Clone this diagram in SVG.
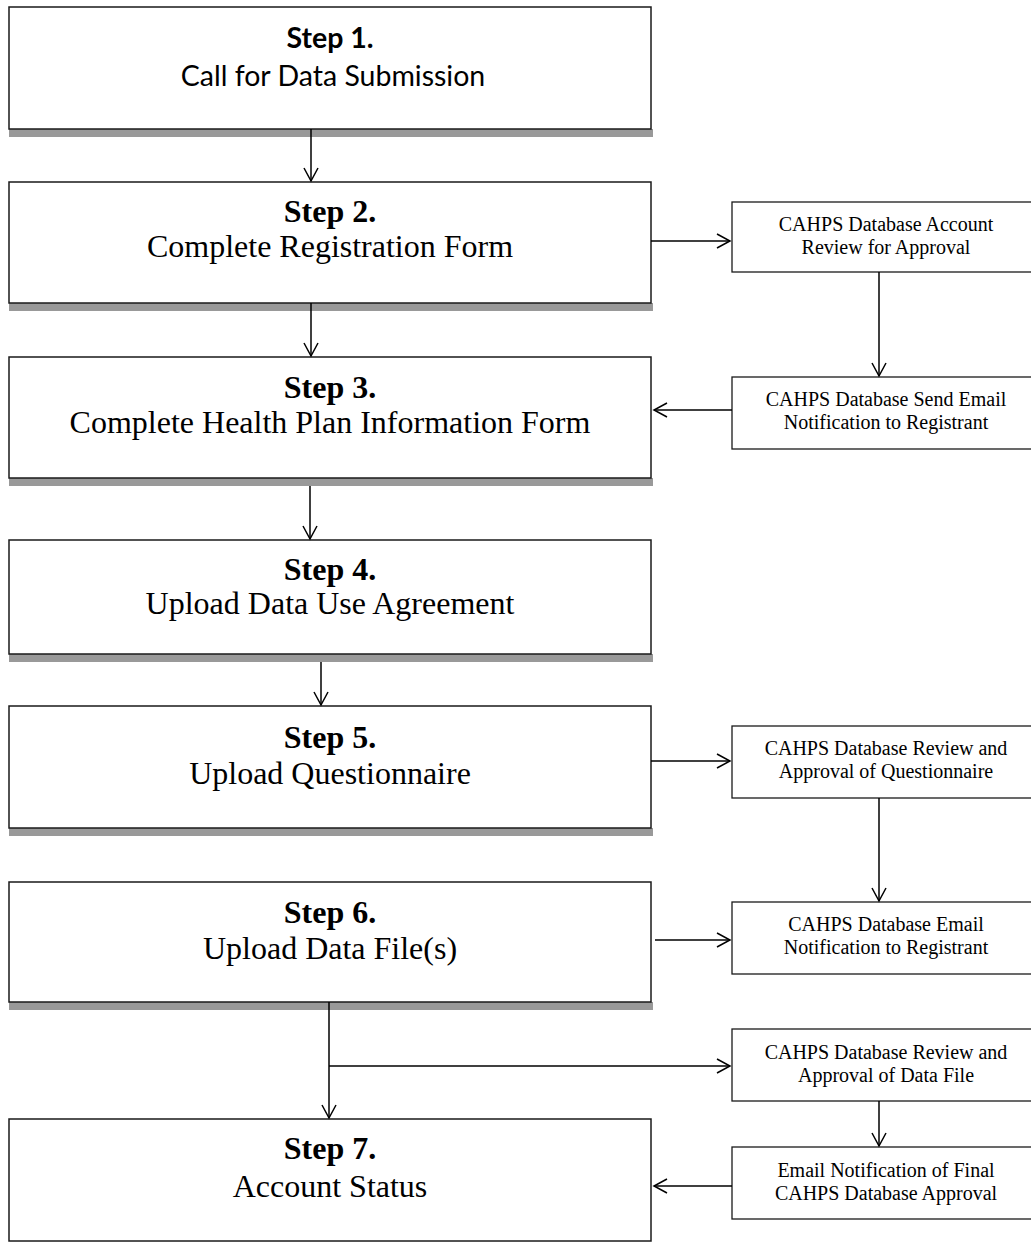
<svg xmlns="http://www.w3.org/2000/svg" width="1031" height="1243" viewBox="0 0 1031 1243">
<style>
.box{fill:#fff;stroke:#1a1a1a;stroke-width:1.5}
.shadow{fill:#999}
.side{fill:#fff;stroke:#1a1a1a;stroke-width:1.3}
.st{font-family:"Liberation Serif","Times New Roman",serif;font-size:32px;fill:#000;text-anchor:middle}
.stb{font-family:"Liberation Serif","Times New Roman",serif;font-size:32px;font-weight:bold;fill:#000;text-anchor:middle}
.s1{font-family:Lato,"Liberation Sans",sans-serif;font-size:28.5px;fill:#000;text-anchor:middle}
.s1b{font-family:Lato,"Liberation Sans",sans-serif;font-size:28.5px;font-weight:bold;fill:#000;text-anchor:middle}
.sd{font-family:"Liberation Serif","Times New Roman",serif;font-size:20px;fill:#000;text-anchor:middle}
.conn{stroke:#000;stroke-width:1.5;fill:none}
</style>
<defs>
<marker id="arr" markerUnits="userSpaceOnUse" markerWidth="20" markerHeight="20" refX="14" refY="8" orient="auto">
<path d="M1,1 L14,8 L1,15" fill="none" stroke="#000" stroke-width="1.5"/>
</marker>
</defs>

<g id="step1">
<rect class="shadow" x="9" y="129" width="644" height="8"/>
<rect class="box" x="9" y="7" width="642" height="122"/>
<text class="s1b" x="330" y="48">Step 1.</text>
<text class="s1" x="333" y="86">Call for Data Submission</text>
</g>
<g id="step2">
<rect class="shadow" x="9" y="303" width="644" height="8"/>
<rect class="box" x="9" y="182" width="642" height="121"/>
<text class="stb" x="330" y="222">Step 2.</text>
<text class="st" x="330" y="257">Complete Registration Form</text>
</g>
<g id="step3">
<rect class="shadow" x="9" y="478" width="644" height="8"/>
<rect class="box" x="9" y="357" width="642" height="121"/>
<text class="stb" x="330" y="398">Step 3.</text>
<text class="st" x="330" y="433">Complete Health Plan Information Form</text>
</g>
<g id="step4">
<rect class="shadow" x="9" y="654" width="644" height="8"/>
<rect class="box" x="9" y="540" width="642" height="114"/>
<text class="stb" x="330" y="580">Step 4.</text>
<text class="st" x="330" y="614">Upload Data Use Agreement</text>
</g>
<g id="step5">
<rect class="shadow" x="9" y="828" width="644" height="8"/>
<rect class="box" x="9" y="706" width="642" height="122"/>
<text class="stb" x="330" y="748">Step 5.</text>
<text class="st" x="330" y="784">Upload Questionnaire</text>
</g>
<g id="step6">
<rect class="shadow" x="9" y="1002" width="644" height="8"/>
<rect class="box" x="9" y="882" width="642" height="120"/>
<text class="stb" x="330" y="923">Step 6.</text>
<text class="st" x="330" y="959">Upload Data File(s)</text>
</g>
<g id="step7">
<rect class="box" x="9" y="1119" width="642" height="122"/>
<text class="stb" x="330" y="1159">Step 7.</text>
<text class="st" x="330" y="1197">Account Status</text>
</g>

<g id="sideA">
<rect class="side" x="732" y="202" width="310" height="70"/>
<text class="sd" x="886" y="231">CAHPS Database Account</text>
<text class="sd" x="886" y="254">Review for Approval</text>
</g>
<g id="sideB">
<rect class="side" x="732" y="377" width="310" height="72"/>
<text class="sd" x="886" y="406">CAHPS Database Send Email</text>
<text class="sd" x="886" y="429">Notification to Registrant</text>
</g>
<g id="sideC">
<rect class="side" x="732" y="726" width="310" height="72"/>
<text class="sd" x="886" y="755">CAHPS Database Review and</text>
<text class="sd" x="886" y="778">Approval of Questionnaire</text>
</g>
<g id="sideD">
<rect class="side" x="732" y="902" width="310" height="72"/>
<text class="sd" x="886" y="931">CAHPS Database Email</text>
<text class="sd" x="886" y="954">Notification to Registrant</text>
</g>
<g id="sideE">
<rect class="side" x="732" y="1029" width="310" height="72"/>
<text class="sd" x="886" y="1059">CAHPS Database Review and</text>
<text class="sd" x="886" y="1082">Approval of Data File</text>
</g>
<g id="sideF">
<rect class="side" x="732" y="1147" width="310" height="72"/>
<text class="sd" x="886" y="1177">Email Notification of Final</text>
<text class="sd" x="886" y="1200">CAHPS Database Approval</text>
</g>

<g id="connectors">
<line class="conn" x1="311" y1="129" x2="311" y2="181" marker-end="url(#arr)"/>
<line class="conn" x1="311" y1="303" x2="311" y2="356" marker-end="url(#arr)"/>
<line class="conn" x1="310" y1="486" x2="310" y2="539" marker-end="url(#arr)"/>
<line class="conn" x1="321" y1="662" x2="321" y2="705" marker-end="url(#arr)"/>
<line class="conn" x1="329" y1="1002" x2="329" y2="1118" marker-end="url(#arr)"/>
<line class="conn" x1="329" y1="1066" x2="730" y2="1066" marker-end="url(#arr)"/>
<line class="conn" x1="651" y1="241" x2="730" y2="241" marker-end="url(#arr)"/>
<line class="conn" x1="879" y1="272" x2="879" y2="376" marker-end="url(#arr)"/>
<line class="conn" x1="732" y1="410" x2="654" y2="410" marker-end="url(#arr)"/>
<line class="conn" x1="651" y1="761" x2="730" y2="761" marker-end="url(#arr)"/>
<line class="conn" x1="879" y1="798" x2="879" y2="901" marker-end="url(#arr)"/>
<line class="conn" x1="655" y1="940" x2="730" y2="940" marker-end="url(#arr)"/>
<line class="conn" x1="879" y1="1101" x2="879" y2="1146" marker-end="url(#arr)"/>
<line class="conn" x1="732" y1="1186" x2="654" y2="1186" marker-end="url(#arr)"/>
</g>
</svg>
